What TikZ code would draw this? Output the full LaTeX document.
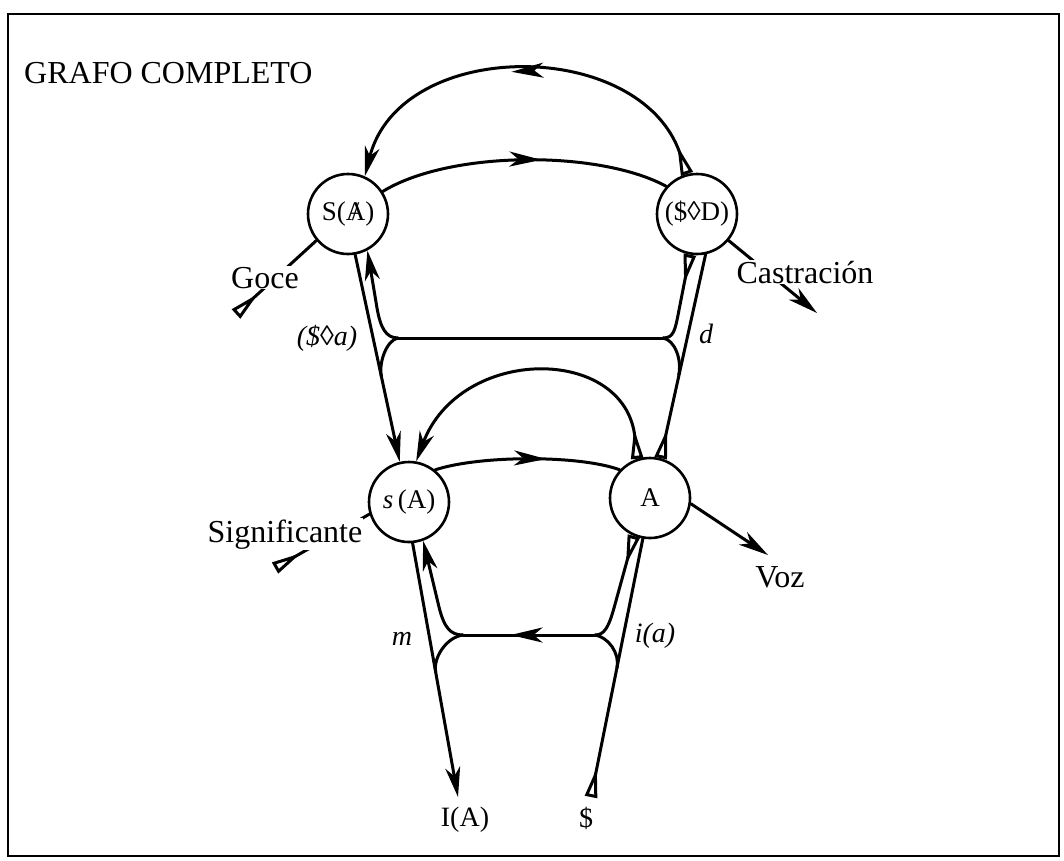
\documentclass[tikz,border=0pt]{standalone}
\usepackage{fontspec}
\setmainfont{Liberation Serif}
\usetikzlibrary{arrows.meta,decorations.markings}

% A crossed by a slash
\newcommand\barredA{\ooalign{A\cr\hfil/\hfil}}

\tikzset{
  ink/.style={line width=3pt, line cap=round, line join=round},
  place/.style={circle, draw, line width=2.6pt, minimum size=80pt, inner sep=0pt,
    font=\fontsize{27}{30}\selectfont},
  lbl/.style={font=\fontsize{32}{36}\selectfont, inner sep=1pt, fill=white},
  ilbl/.style={font=\fontsize{28}{32}\selectfont\itshape, inner sep=1pt},
  blbl/.style={font=\fontsize{28}{32}\selectfont, inner sep=1pt},
  head/.style={-{Stealth[length=30pt,width=15pt,inset=9pt]}},
  tail/.style={{Triangle[open,reversed,length=30pt,width=12pt]}-},
  tailhead/.style={{Triangle[open,reversed,length=30pt,width=12pt]}-{Stealth[length=30pt,width=15pt,inset=9pt]}},
  midarrow/.style={postaction={decorate}, decoration={markings,
    mark=at position #1 with {\arrow{Stealth[length=32pt,width=15pt,inset=9pt]}}}}
}

\begin{document}
\begin{tikzpicture}[x=1pt,y=-1pt]
\useasboundingbox (0,0) rectangle (1064,860);
\draw[line width=2.4pt] (8,14) rectangle (1059,856);

\node[anchor=base west, font=\fontsize{32}{36}\selectfont, inner sep=0pt] (title) at (24,83) {GRAFO COMPLETO};

% the four places of the graph
\node[place] (SA) at (348,214) {S(\barredA)};
\node[place] (SD) at (697,214) {(\$◊D)};
\node[place] (sA) at (409,502) {{\itshape s}\,(A)};
\node[place] (A)  at (650,498) {A};

% junctions of the two horizontal bars and free ends
\coordinate (J1) at (398,338);
\coordinate (J2) at (663,338);
\coordinate (J3) at (463,635);
\coordinate (J4) at (595,635);
\coordinate (goceT) at (236,314);
\coordinate (castT) at (817,313);
\coordinate (sigT) at (275,568);
\coordinate (vozT) at (768,555);
\coordinate (IAtip) at (458,797);
\coordinate (Stail) at (591,797);

% upper level
\draw[ink, tailhead, midarrow=0.53] (SD.104) .. controls (640,37) and (400,37) .. (SA.66);
\draw[ink, midarrow=0.56] (SA.33) .. controls (450,150) and (600,150) .. (SD.138);
\draw[ink, tail] (goceT) -- (SA.220);
\draw[ink, head] (SD.-40) -- (castT);

% left descent: S(A) to s(A)
\draw[ink, head] (SA.-80) -- (sA.103);
\draw[ink, head] (J1) .. controls (386,338) and (380.5,328) .. (377,308) -- (SA.-62);
\draw[ink] (J1) .. controls (387,340) and (378.3,362) .. (381.5,377);

% right descent: A to ($D)
\draw[ink, tail] (A.75) -- (SD.-78);
\draw[ink, tail] (SD.-100) -- (679,310) .. controls (675.1,330) and (674,338) .. (J2);
\draw[ink] (J2) .. controls (675,340) and (682,360) .. (678.7,375);
\draw[ink] (J1) -- (J2);

% lower level
\draw[ink, tailhead] (A.108) .. controls (625,345) and (460,345) .. (sA.80);
\draw[ink, midarrow=0.6] (sA.51) .. controls (480,455) and (580,455) .. (A.137);
\draw[ink, tail] (sigT) -- (sA.197);
\draw[ink, head] (A.-8) -- (vozT);

% lower descents
\draw[ink, head] (sA.-85) -- (IAtip);
\draw[ink, head] (J3) .. controls (450,635) and (444,627) .. (439,607) -- (sA.-70);
\draw[ink] (J3) .. controls (447,637) and (433,657) .. (435.7,672);
\draw[ink, tail] (Stail) -- (A.-100);
\draw[ink, tail] (A.-113) -- (614,608) .. controls (608.4,628) and (604,635) .. (J4);
\draw[ink] (J4) .. controls (608,637) and (620,653) .. (617,668);
\draw[ink, midarrow=0.64] (J4) -- (J3);

% labels
\node[lbl, anchor=base] (goce) at (265,288) {Goce};
\node[lbl, anchor=base] (cast) at (805,283) {Castración};
\node[lbl, anchor=base] (sig) at (285,542) {Significante};
\node[lbl, anchor=base] (voz) at (780,587) {Voz};
\node[ilbl, anchor=base] (pa) at (327,345) {(\$◊a)};
\node[ilbl, anchor=base] (dd) at (706,343) {d};
\node[ilbl, anchor=base] (mm) at (402,645) {m};
\node[ilbl, anchor=base] (ia) at (655,642) {i(a)};
\node[blbl, anchor=base] (IA) at (465,826) {I(A)};
\node[blbl, anchor=base] (S) at (586,827) {\$};
\end{tikzpicture}
\end{document}
